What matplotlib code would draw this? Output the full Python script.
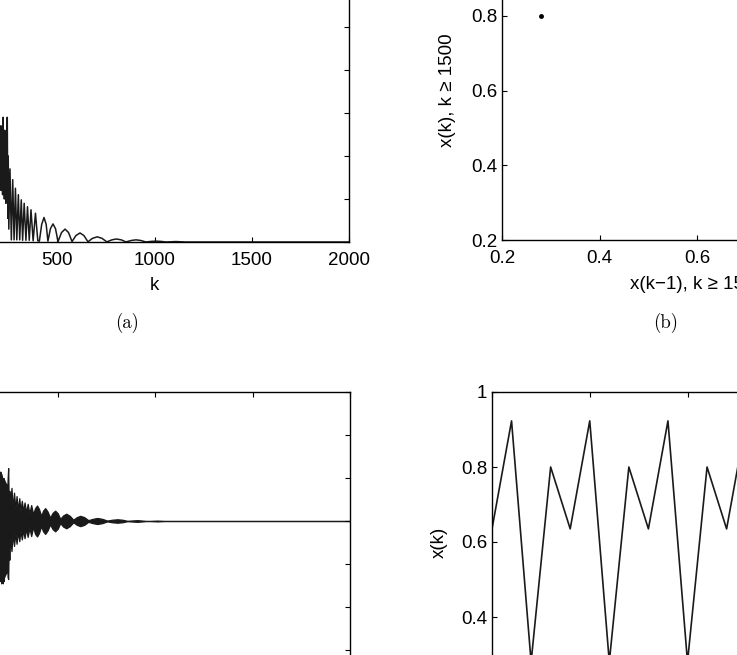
import matplotlib
matplotlib.use('Agg')
import matplotlib.pyplot as plt

# (a) slow decay
a_k = [205, 207, 209, 211, 213, 215, 217, 219, 222, 224, 226, 228, 230, 232,
       234, 236, 238, 240, 243, 246, 248, 251,
       257, 264, 271, 278, 285, 292, 300, 307, 315, 322, 330, 339, 347, 356,
       365, 376, 388, 400, 408,
       420, 432, 443, 452, 465, 478, 491, 504, 522, 540, 558, 576,
       596, 617, 637, 658, 681, 706, 730, 755, 781, 804, 829, 853,
       880, 905, 930, 956, 982, 1007, 1033, 1059, 1110, 1160, 2000]
a_val = [0.22, 0.13, 0.27, 0.12, 0.25, 0.14, 0.27, 0.11, 0.29, 0.13, 0.24, 0.10, 0.26, 0.12,
         0.22, 0.09, 0.24, 0.12, 0.29, 0.055, 0.20, 0.03,
         0.17, 0.005, 0.145, 0.005, 0.125, 0.005, 0.11, 0.005, 0.098, 0.004, 0.09, 0.004, 0.082, 0.004,
         0.075, 0.003, 0.067, 0.003, 0.002,
         0.041, 0.057, 0.041, 0.002, 0.031, 0.042, 0.031, 0.001, 0.022, 0.030, 0.022, 0.001,
         0.015, 0.021, 0.015, 0.0005, 0.0085, 0.012, 0.0085, 0.0003, 0.005, 0.007, 0.005, 0.0002,
         0.0035, 0.005, 0.0035, 0.0, 0.0014, 0.002, 0.0014, 0.0, 0.001, 0.0, 0.0]

# (b) return map points, k >= 1500
b_prev = [0.28, 0.635, 0.923, 0.80]
b_next = [0.80, 0.923, 0.28, 0.635]

# (c) envelope of the fast oscillation
c_k = [205, 207, 209, 211, 213, 215, 217, 219, 221, 223, 225, 227, 230, 232, 235, 238,
       241, 244, 247, 250, 253, 257,
       264, 270, 277, 284, 290, 297, 304, 310, 317, 324, 331, 339, 347, 356, 365, 375,
       385, 395, 405, 416, 426, 437, 449, 462, 475, 488, 501, 514, 529, 545, 563, 581,
       599, 617, 637, 658, 681, 704, 729, 755, 781, 807, 832, 858, 910, 961, 1012, 1064, 2000]
c_up = [0.10, 0.115, 0.07, 0.11, 0.075, 0.105, 0.07, 0.10, 0.065, 0.10, 0.065, 0.095, 0.06, 0.09, 0.055, 0.085,
        0.05, 0.095, 0.123, 0.045, 0.07, 0.035,
        0.077, 0.03, 0.066, 0.028, 0.058, 0.026, 0.053, 0.024, 0.047, 0.022, 0.043, 0.02, 0.040, 0.018, 0.037, 0.016,
        0.030, 0.036, 0.028, 0.012, 0.024, 0.030, 0.022, 0.008, 0.019, 0.024, 0.018, 0.005, 0.013, 0.017, 0.012, 0.003,
        0.009, 0.012, 0.009, 0.002, 0.005, 0.007, 0.005, 0.001, 0.003, 0.004, 0.003, 0.0005, 0.002, 0.0, 0.001, 0.0, 0.0]
c_lo = [-0.09, -0.14, -0.08, -0.145, -0.09, -0.14, -0.085, -0.145, -0.08, -0.14, -0.08, -0.13, -0.075, -0.125, -0.07, -0.12,
        -0.065, -0.13, -0.135, -0.055, -0.09, -0.04,
        -0.07, -0.03, -0.058, -0.028, -0.053, -0.025, -0.047, -0.022, -0.043, -0.02, -0.04, -0.018, -0.037, -0.016, -0.035, -0.014,
        -0.030, -0.036, -0.028, -0.012, -0.024, -0.030, -0.022, -0.008, -0.019, -0.024, -0.018, -0.005, -0.013, -0.017, -0.012, -0.003,
        -0.009, -0.012, -0.009, -0.002, -0.005, -0.007, -0.005, -0.001, -0.003, -0.004, -0.003, -0.0005, -0.002, 0.0, -0.001, 0.0, 0.0]

# (d) last samples
d_k = list(range(1980, 2001))
d_x = [0.635, 0.923, 0.28, 0.80] * 5 + [0.635]

plt.rcParams['font.family'] = ['Liberation Sans', 'DejaVu Sans']

W, H = 737, 655
FS = 13.5
fig = plt.figure(figsize=(W / 100, H / 100), dpi=100)


def px_axes(left, top, width, height):
    return fig.add_axes([left / W, (H - top - height) / H, width / W, height / H])


def style(ax):
    ax.tick_params(direction='in', top=True, right=True, length=3.6, width=0.8,
                   labelsize=FS, colors='k')
    ax.tick_params(axis='x', pad=7.5)
    ax.tick_params(axis='y', pad=3.5)
    for s in ax.spines.values():
        s.set_linewidth(1.0)


line_col = '#1a1a1a'

ax_a = px_axes(-40, -59, 389, 301)
ax_a.plot(a_k, a_val, color=line_col, lw=1.1)
ax_a.set_xlim(0, 2000)
ax_a.set_ylim(0, 0.7)
ax_a.set_xticks([0, 500, 1000, 1500, 2000])
ax_a.set_yticks([0, 0.1, 0.2, 0.3, 0.4, 0.5, 0.6, 0.7])
ax_a.set_xlabel('k', fontsize=FS)
ax_a.xaxis.set_label_coords(0.5, -0.115)
ax_a.xaxis.label.set_va('top')
style(ax_a)

ax_b = px_axes(502, -59, 390, 299)
ax_b.plot(b_prev, b_next, '.', color='k', ms=5)
ax_b.set_xlim(0.2, 1)
ax_b.set_ylim(0.2, 1)
ticks = [0.2, 0.4, 0.6, 0.8, 1.0]
labels = ['0.2', '0.4', '0.6', '0.8', '1']
ax_b.set_xticks(ticks, labels)
ax_b.set_yticks(ticks, labels)
ax_b.set_xlabel('x(k\u22121), k \u2265 1500', fontsize=FS)
ax_b.xaxis.set_label_coords(0.5, -0.12)
ax_b.xaxis.label.set_va('top')
ax_b.set_ylabel('x(k), k \u2265 1500', fontsize=FS)
ax_b.yaxis.set_label_coords(-0.118, 0.5)
style(ax_b)

ax_c = px_axes(-40, 392, 390, 301)
ax_c.fill_between(c_k, c_lo, c_up, color=line_col, edgecolor=line_col, lw=0.9)
ax_c.set_xlim(0, 2000)
ax_c.set_ylim(-0.4, 0.3)
ax_c.set_xticks([0, 500, 1000, 1500, 2000])
ax_c.set_yticks([-0.4, -0.3, -0.2, -0.1, 0, 0.1, 0.2, 0.3])
style(ax_c)

ax_d = px_axes(492, 392, 391, 300)
ax_d.plot(d_k, d_x, color=line_col, lw=1.2)
ax_d.set_xlim(1980, 2000)
ax_d.set_ylim(0.2, 1)
ax_d.set_xticks([1980, 1985, 1990, 1995, 2000])
ax_d.set_yticks(ticks, labels)
ax_d.set_ylabel('x(k)', fontsize=FS)
ax_d.yaxis.set_label_coords(-0.113, 0.5)
style(ax_d)

fig.text(127 / W, 1 - 323 / H, '(a)', family='cmr10', fontsize=13.5, ha='center', va='center')
fig.text(666 / W, 1 - 323 / H, '(b)', family='cmr10', fontsize=13.5, ha='center', va='center')

fig.savefig('out.png', dpi=100)
